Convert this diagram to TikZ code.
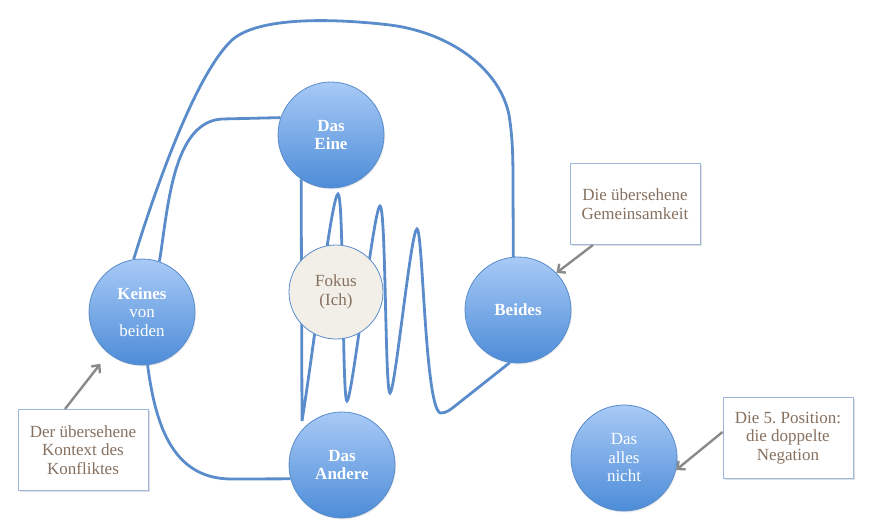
\documentclass[tikz,border=0pt]{standalone}
\usepackage{fontspec}
\setmainfont{Liberation Serif}
\frenchspacing
\usetikzlibrary{arrows.meta,shadows}
\definecolor{ctop}{HTML}{A8CAF6}
\definecolor{cbot}{HTML}{4D8CD8}
\definecolor{cline}{HTML}{5A8CCB}
\definecolor{fokfill}{HTML}{F2EFE8}
\definecolor{txtbrown}{HTML}{86705F}
\definecolor{boxline}{HTML}{9BB7DB}
\definecolor{arrgray}{HTML}{8A8A8A}
\tikzset{
  ball/.style={circle, minimum size=106pt, inner sep=0pt, draw=cline, line width=0.8pt,
    top color=ctop, bottom color=cbot, text=white, align=center,
    font=\fontsize{17}{18.5}\selectfont,
    drop shadow={opacity=0.15, shadow xshift=1pt, shadow yshift=-1.5pt}},
  fokus/.style={circle, minimum size=94pt, inner sep=0pt, draw=cline, line width=0.8pt,
    fill=fokfill, text=txtbrown, align=center, font=\fontsize{17}{18.5}\selectfont},
  notebox/.style={rectangle, minimum width=130pt, minimum height=81pt, draw=boxline,
    line width=1pt, fill=white, text=txtbrown, align=center, font=\fontsize{17}{18.5}\selectfont,
    drop shadow={opacity=0.25, shadow xshift=1.5pt, shadow yshift=-1.5pt}},
  link/.style={draw=cline, line width=2.8pt},
  note/.style={draw=arrgray, line width=2.4pt, -{Straight Barb[length=6pt,width=11pt]}},
}
\begin{document}
\begin{tikzpicture}[x=1pt,y=-1pt]
\useasboundingbox (0,0) rectangle (880,532);
% circles
\node[ball] (eine) at (331,135) {\textbf{Das}\\\textbf{Eine}};
\node[ball] (keines) at (142,312) {\textbf{Keines}\\von\\beiden};
\node[ball] (beides) at (518,310) {\textbf{Beides}};
\node[ball] (andere) at (342,465) {\textbf{Das}\\\textbf{Andere}};
\node[ball] (alles) at (624,458) {Das\\alles\\nicht};
% connectors
\draw[link] (keines.99) .. controls (155,190) and (195,75) .. (232,40)
  .. controls (258,17) and (330,18) .. (390,25)
  .. controls (452,33) and (500,70) .. (509,115)
  .. controls (513,140) and (513,160) .. (513,190) -- (beides.95);
\draw[link] (keines.71) .. controls (168,210) and (172,122) .. (222,119) -- (eine.161);
\draw[link] (keines.-84) .. controls (155,420) and (170,478) .. (230,479) -- (andere.-165);
\draw[link] (eine.-124) -- (302,421)
  .. controls (313,353) and (332,194) .. (338,194)
  .. controls (344,194) and (342,401) .. (347,401)
  .. controls (352,401) and (374,206) .. (380,206)
  .. controls (386,206) and (385,393) .. (390,393)
  .. controls (395,393) and (411,229) .. (417,229)
  .. controls (423,229) and (425,414) .. (441,413)
  .. controls (446,413) and (450,410) .. (455,406) -- (beides.-99);
\node[fokus] (fokus) at (336,292) {Fokus\\(Ich)};
% notes
\node[notebox] (box1) at (635,204) {Die übersehene\\Gemeinsamkeit};
\node[notebox] (box2) at (83,450) {Der übersehene\\Kontext des\\Konfliktes};
\node[notebox] (box3) at (788,438) {Die 5. Position:\\die doppelte\\Negation};
\draw[note] ([xshift=-42pt]box1.south) -- (beides.44);
\draw[note, shorten >=13pt] ([xshift=-18pt]box2.north) -- (keines.-129);
\draw[note] ([yshift=6pt]box3.west) -- (alles.-13);
\end{tikzpicture}
\end{document}
